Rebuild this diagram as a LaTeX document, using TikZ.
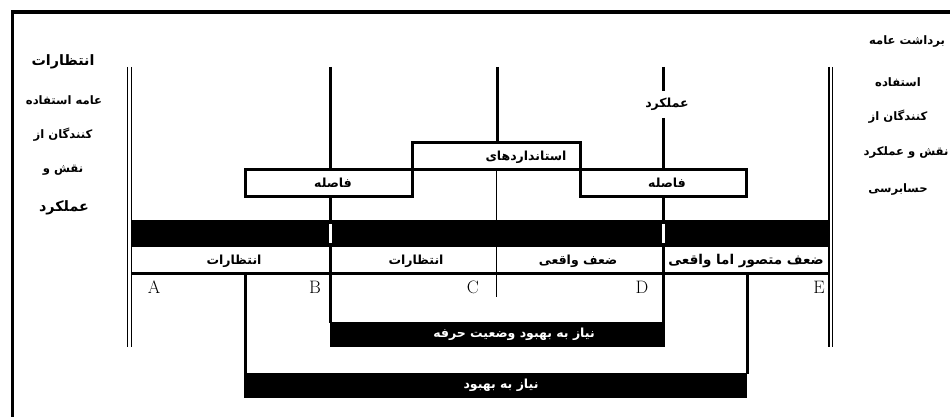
\documentclass[tikz,border=0pt]{standalone}
\usepackage{fontspec}
\newfontfamily\fa[Script=Arabic]{DejaVu Sans}
\TeXXeTstate=1
\newcommand{\fat}[1]{\beginR #1\endR}
\begin{document}
\begin{tikzpicture}[x=1pt,y=-1pt,
  thk/.style={line width=3pt},
  dbl/.style={line width=1.3pt},
  thn/.style={line width=0.9pt},
  fa/.style={inner sep=0pt,font=\fa\bfseries\fontsize{12.5}{14}\selectfont},
  facol/.style={inner sep=0pt,font=\fa\bfseries\fontsize{11.6}{14}\selectfont},
  falg/.style={inner sep=0pt,font=\fa\bfseries\fontsize{14.3}{16}\selectfont},
  ltr/.style={inner sep=0pt,font=\fontsize{18}{18}\selectfont},
  blk/.style={fill=black,inner sep=0pt},
  wtxt/.style={text=white,inner sep=0pt,font=\fa\bfseries\fontsize{12.5}{14}\selectfont}]
\useasboundingbox (0,0) rectangle (950,417);
% outer frame (top and left)
\draw[line width=3.5pt] (12.5,417) -- (12.5,12) -- (950,12);
% double lines
\draw[dbl] (127.5,67) -- (127.5,347) (131.3,67) -- (131.3,347);
\draw[dbl] (829,67) -- (829,347) (832.7,67) -- (832.7,347);
% black band and notches
\fill (132,220) rectangle (828.3,246.5);
\fill[white] (328.6,224) rectangle (331.6,242.5);
\fill[white] (662,224) rectangle (665,242.5);
% row line
\draw[line width=2.6pt] (132,273.5) -- (828.3,273.5);
% top vertical lines
\draw[thk] (330,67) -- (330,169);
\draw[thk] (497,67) -- (497,143);
\draw[thk] (663.5,67) -- (663.5,91) (663.5,118) -- (663.5,169);
% standards / gap boxes
\draw[thk] (245,169) -- (746,169);
\draw[thk] (245,169) rectangle (412,196.5);
\draw[thk] (580,169) rectangle (746,196.5);
\draw[thk] (412,196.5) -- (412,143) -- (580,143) -- (580,196.5);
% lines below the boxes
\draw[thk] (330,196.5) -- (330,220) (330,246.5) -- (330,323);
\draw[thk] (663.5,196.5) -- (663.5,220) (663.5,246.5) -- (663.5,323);
\draw[thn] (496,170) -- (496,297);
\draw[thk] (245.5,273.5) -- (245.5,374);
\draw[thk] (747,273.5) -- (747,374);
% black boxes
\node[blk,minimum width=335.5pt,minimum height=25pt] (imp2) at (497.25,334.5) {};
\node[wtxt] (imp2t) at (514,334) {\fat{نیاز به بهبود وضعیت حرفه}};
\node[blk,minimum width=503pt,minimum height=25pt] (imp1) at (495.5,385.5) {};
\node[wtxt] (imp1t) at (501,385) {\fat{نیاز به بهبود}};
% labels
\node[fa] (perf) at (667,104) {\fat{عملکرد}};
\node[fa] (std) at (526,157) {\fat{استانداردهای}};
\node[fa] (gapL) at (333,183) {\fat{فاصله}};
\node[fa] (gapR) at (667,183) {\fat{فاصله}};
\node[fa] (r1) at (234,261) {\fat{انتظارات}};
\node[fa] (r2) at (416,261) {\fat{انتظارات}};
\node[fa] (r3) at (578,261) {\fat{ضعف واقعی}};
\node[fa,font=\fa\bfseries\fontsize{13.5}{15}\selectfont] (r4) at (746,261) {\fat{ضعف متصور اما واقعی}};
% letters
\node[ltr] (lA) at (154,287) {A};
\node[ltr] (lB) at (315,287) {B};
\node[ltr] (lC) at (473,287) {C};
\node[ltr] (lD) at (642,287) {D};
\node[ltr] (lE) at (819,287) {E};
% left column
\node[falg] (L1) at (63,62) {\fat{انتظارات}};
\node[facol] (L2) at (64,100) {\fat{عامه استفاده}};
\node[facol] (L3) at (63,135) {\fat{کنندگان از}};
\node[facol] (L4) at (63,170) {\fat{نقش و}};
\node[falg] (L5) at (64,208) {\fat{عملکرد}};
% right column
\node[facol] (R1) at (907,42) {\fat{برداشت عامه}};
\node[facol] (R2) at (898,82) {\fat{استفاده}};
\node[facol] (R3) at (898,117) {\fat{کنندگان از}};
\node[facol] (R4) at (906,153) {\fat{نقش و عملکرد}};
\node[facol] (R5) at (898,190) {\fat{حسابرسی}};
\end{tikzpicture}
\end{document}
